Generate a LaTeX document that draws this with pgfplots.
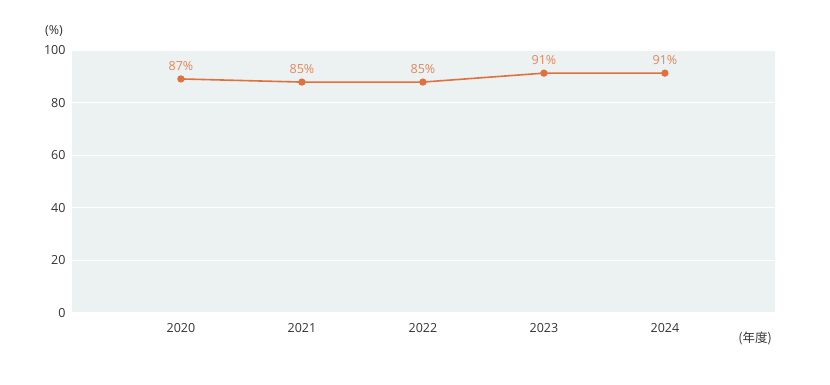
\documentclass[border=0pt]{standalone}
\usepackage{pgfplots}
\pgfplotsset{compat=1.18}
\usepackage{fontspec}
\setmainfont{Open Sans}
\newfontfamily\cjk{Noto Sans CJK JP}
\definecolor{bgc}{HTML}{ECF1F2}
\definecolor{linec}{HTML}{E2703E}
\definecolor{labc}{HTML}{E4875A}
\definecolor{txt}{HTML}{333333}
\begin{document}
\begin{tikzpicture}
\begin{axis}[
  at={(0pt,0pt)}, anchor=south west,
  scale only axis, width=703pt, height=263pt,
  xmin=-0.9, xmax=4.91, ymin=0, ymax=100,
  xtick={0,1,2,3,4}, xticklabels={2020,2021,2022,2023,2024},
  ytick={0,20,40,60,80,100},
  axis background/.style={fill=bgc},
  axis line style={draw=none},
  major tick length=0pt,
  ymajorgrids, grid style={white, line width=1.2pt},
  tick label style={font=\fontsize{12.5}{14}\selectfont, text=txt},
  /pgf/number format/assume math mode=true,
  xticklabel style={yshift=-7pt},
  yticklabel style={xshift=-3pt},
  clip=false,
]
\addplot[color=linec, line width=1.6pt, mark=*, mark size=2.8pt,
  mark options={fill=linec, draw=linec},
  point meta=explicit symbolic,
  nodes near coords,
  every node near coord/.append style={font=\fontsize{12.5}{14}\selectfont, text=labc, anchor=south, yshift=4pt}]
  coordinates {(0,89)[87\%] (1,87.8)[85\%] (2,87.8)[85\%] (3,91.2)[91\%] (4,91.2)[91\%]};
\node[font=\fontsize{12.5}{14}\selectfont, text=txt] at (axis cs:-0.9,100) [xshift=-18pt, yshift=19pt] {(\%)};
\node[font=\cjk\fontsize{12.5}{14}\selectfont, text=txt] at (axis cs:4.91,0) [xshift=-20pt, yshift=-25pt] {(年度)};
\end{axis}
\pgfresetboundingbox
\path (-72pt,-72pt) rectangle (758pt,313pt);
\end{tikzpicture}
\end{document}
